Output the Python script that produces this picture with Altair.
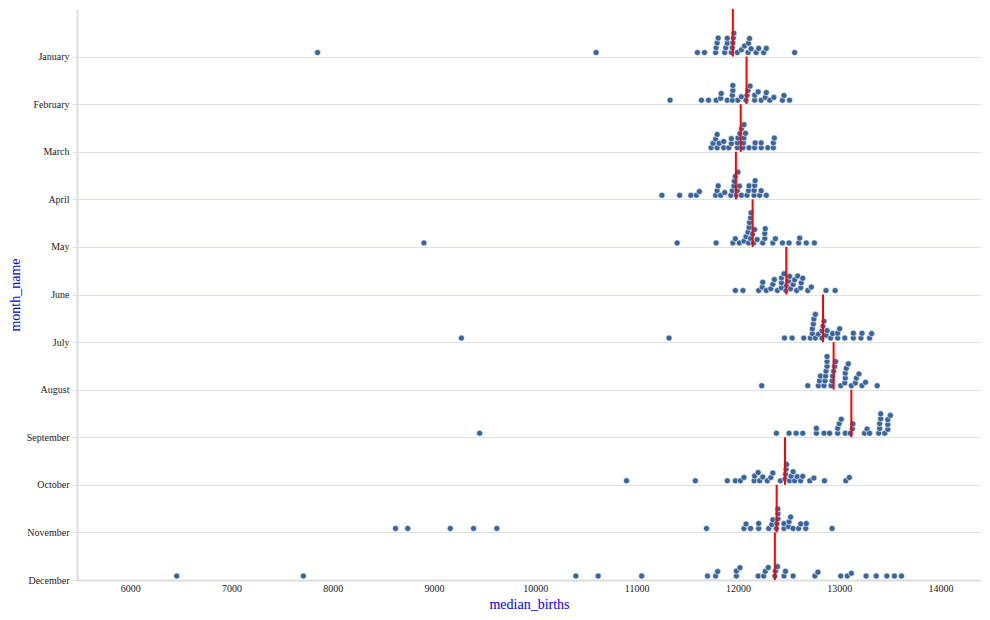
import math
import altair as alt
import pandas as pd

months = ["January", "February", "March", "April", "May", "June", "July",
          "August", "September", "October", "November", "December"]

jan = [7850, 10600, 11600, 11670, 11780, 11785, 11795, 11805, 11870, 11880, 11895,
       11895, 11950, 11955, 11935, 11945, 11960, 11995, 12035, 12065, 12100, 12105,
       12115, 12130, 12180, 12205, 12255, 12280, 12560]
feb = [11330, 11640, 11710, 11785, 11830, 11835, 11895, 11945, 11945, 11950, 11950,
       12000, 12035, 12080, 12090, 12100, 12120, 12165, 12165, 12200, 12230, 12270,
       12280, 12315, 12355, 12440, 12455, 12510]
mar = [11735, 11755, 11780, 11795, 11795, 11815, 11860, 11860, 11910, 11935, 11935,
       11995, 11995, 12000, 12020, 12035, 12050, 12055, 12060, 12060, 12075, 12110,
       12165, 12170, 12230, 12230, 12295, 12350, 12350, 12360]
apr = [11250, 11425, 11535, 11590, 11620, 11780, 11795, 11805, 11830, 11870, 11930,
       11945, 11960, 11965, 11975, 11985, 11995, 12000, 12015, 12035, 12090, 12105,
       12110, 12160, 12160, 12165, 12170, 12215, 12230, 12280]
may = [8900, 11400, 11785, 11950, 11975, 12015, 12060, 12080, 12100, 12105, 12110,
       12115, 12125, 12125, 12130, 12145, 12155, 12165, 12190, 12245, 12265, 12265,
       12270, 12345, 12370, 12440, 12505, 12600, 12610, 12675, 12755]
jun = [11975, 12050, 12205, 12240, 12245, 12280, 12325, 12345, 12360, 12390, 12430,
       12430, 12430, 12455, 12475, 12480, 12500, 12510, 12520, 12545, 12560, 12580,
       12590, 12620, 12625, 12640, 12690, 12725, 12870, 12960]
jul = [9270, 11320, 12460, 12535, 12650, 12715, 12735, 12735, 12745, 12750, 12765,
       12765, 12795, 12830, 12830, 12840, 12850, 12870, 12880, 12915, 12935, 12985,
       12985, 13005, 13055, 13140, 13140, 13215, 13225, 13300, 13320]
aug = [12235, 12690, 12795, 12805, 12815, 12850, 12860, 12865, 12870, 12880, 12880,
       12880, 12920, 12930, 12935, 12945, 12955, 12965, 13015, 13055, 13060, 13060,
       13070, 13090, 13120, 13160, 13170, 13195, 13225, 13260, 13375]
sep = [9450, 12380, 12505, 12575, 12640, 12775, 12775, 12850, 12905, 12985, 12985,
       13000, 13020, 13060, 13110, 13130, 13135, 13250, 13275, 13300, 13390, 13400,
       13400, 13410, 13410, 13450, 13480, 13480, 13480, 13505]
oct_ = [10900, 11580, 11895, 11975, 12025, 12060, 12160, 12165, 12200, 12215, 12245,
        12290, 12325, 12345, 12420, 12465, 12470, 12475, 12480, 12510, 12525, 12545,
        12560, 12585, 12620, 12640, 12710, 12750, 12855, 13065, 13100]
nov = [8620, 8740, 9160, 9390, 9620, 11690, 12060, 12080, 12125, 12205, 12205,
       12305, 12335, 12345, 12380, 12385, 12395, 12395, 12395, 12455, 12455, 12500,
       12505, 12520, 12545, 12600, 12620, 12670, 12675, 12930]
dec = [6460, 7710, 10400, 10620, 11050, 11700, 11780, 11800, 11985, 11985, 12020,
       12200, 12255, 12270, 12300, 12365, 12370, 12390, 12455, 12470, 12545, 12760,
       12790, 13015, 13080, 13120, 13265, 13365, 13470, 13545, 13615]

series = [jan, feb, mar, apr, may, jun, jul, aug, sep, oct_, nov, dec]

# layout constants
W = 904
H = 571
X_DOMAIN = [5475, 14400]
COLLIDE = 4.9      # px collision diameter for the swarm
BASE = 4.0         # px lift of the bottom row above the month line

px_per_unit_x = W / (X_DOMAIN[1] - X_DOMAIN[0])
px_per_unit_y = H / 12.0


def swarm(values):
    """one-sided beeswarm: returns pixel lift of each value above its baseline"""
    order = sorted(range(len(values)), key=lambda i: values[i])
    placed = []
    lift = [0.0] * len(values)
    for i in order:
        x = values[i] * px_per_unit_x
        near = [(px, py) for px, py in placed if abs(px - x) < COLLIDE]
        cands = [0.0] + [py + math.sqrt(COLLIDE ** 2 - (px - x) ** 2) for px, py in near]
        cands.sort()
        for c in cands:
            if all((c - py) ** 2 + (px - x) ** 2 >= COLLIDE ** 2 - 1e-6 for px, py in near):
                break
        placed.append((x, c))
        lift[i] = c
    return lift


rows = []
for mi, (name, vals) in enumerate(zip(months, series), start=1):
    for v, lft in zip(vals, swarm(vals)):
        rows.append({
            "month_name": name,
            "month_idx": mi,
            "median_births": v,
            "ypos": mi - (BASE + lft) / px_per_unit_y,
        })
df = pd.DataFrame(rows)

label_expr = "[''," + ",".join("'%s'" % m for m in months) + "][datum.value]"

x_scale = alt.Scale(domain=X_DOMAIN, nice=False, zero=False)
y_scale = alt.Scale(domain=[0, 12], reverse=True, nice=False, zero=False)

x_axis = alt.Axis(values=list(range(6000, 14001, 1000)), format="d", ticks=False,
                  grid=False, title="median_births")
y_axis = alt.Axis(values=list(range(1, 13)), labelExpr=label_expr, grid=True,
                  title="month_name", tickSize=5)

points = alt.Chart(df).mark_circle(
    size=37, color="#3a659b", opacity=1, stroke="white", strokeWidth=0.6
).encode(
    x=alt.X("median_births:Q", scale=x_scale, axis=x_axis),
    y=alt.Y("ypos:Q", scale=y_scale, axis=y_axis),
    tooltip=["month_name:N", "median_births:Q"],
)

rules = alt.Chart(df).transform_aggregate(
    med="median(median_births)", groupby=["month_idx"]
).transform_calculate(
    top="datum.month_idx - 1"
).mark_rule(color="#ff0000", strokeWidth=2).encode(
    x=alt.X("med:Q", scale=x_scale, axis=x_axis),
    y=alt.Y("month_idx:Q", scale=y_scale, axis=y_axis),
    y2="top:Q",
)

chart = alt.layer(points, rules).properties(
    width=W, height=H,
    padding={"left": 0, "top": 0, "right": 0, "bottom": 0},
).configure_view(
    stroke="transparent"
).configure_axis(
    labelFont="Liberation Serif", labelFontSize=10, labelColor="#222",
    titleFont="Liberation Serif", titleFontSize=14, titleFontWeight="normal",
    titleColor="#0000ee",
    domainColor="#dddddd", domainWidth=2,
    tickColor="#dddddd", tickWidth=1,
    gridColor="#dde1ea", gridWidth=1,
    labelPadding=3, titlePadding=4,
)

chart.save("out.html", embed_options={"renderer": "svg", "actions": False})
